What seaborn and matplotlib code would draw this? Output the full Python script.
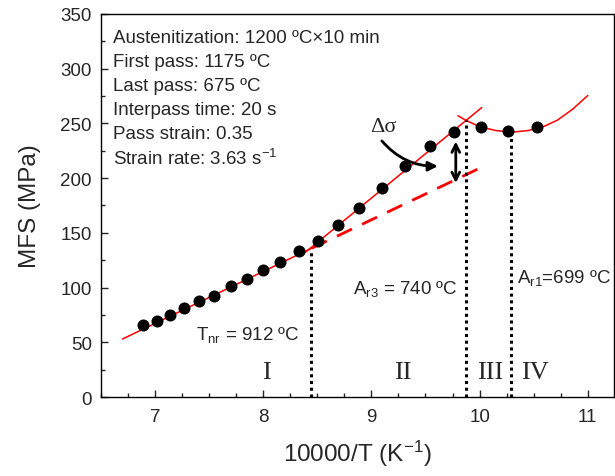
import numpy as np
import pandas as pd
import matplotlib
matplotlib.use("Agg")
import matplotlib.pyplot as plt
import seaborn as sns
from matplotlib.ticker import MultipleLocator

# --- data ---
inv_T = [6.89, 7.02, 7.14, 7.27, 7.41, 7.55, 7.70, 7.85, 8.00, 8.16, 8.33, 8.51,
         8.69, 8.89, 9.10, 9.31, 9.54, 9.76, 10.01, 10.26, 10.53]
mfs = [66.2, 69.9, 74.5, 81.3, 87.3, 91.9, 101.1, 108.1, 116.4, 123.7, 133.5, 142.9,
       157.6, 172.3, 191.2, 211.0, 229.3, 242.5, 247.1, 243.1, 247.1]

fit1_x = [6.70, 8.47]
fit1_y = [53.0, 137.0]
fit2_x = [8.35, 10.02]
fit2_y = [129.0, 264.5]
fit3_x = [9.80, 9.87, 10.00, 10.15, 10.30, 10.45, 10.60, 10.72, 10.86, 11.00]
fit3_y = [257.0, 253.0, 247.0, 243.5, 242.0, 243.5, 247.5, 253.0, 263.0, 275.5]
ext_x = [8.45, 10.02]
ext_y = [136.0, 210.0]

T_nr, A_r3, A_r1 = 912, 740, 699
vline_x = [10000 / (T_nr + 273), 10000 / (A_r3 + 273), 10000 / (A_r1 + 273)]
vline_top = [134.0, 253.0, 242.0]

regions = ["I", "II", "III", "IV"]
region_x = [8.03, 9.29, 10.10, 10.51]

conditions = ["Austenitization: 1200 ºC×10 min",
              "First pass: 1175 ºC",
              "Last pass: 675 ºC",
              "Interpass time: 20 s",
              "Pass strain: 0.35",
              r"Strain rate: 3.63 s$^{\mathregular{-1}}$"]

# --- plotting ---
sns.set_style("ticks")
plt.rcParams['font.family'] = ['Liberation Sans', 'DejaVu Sans']
plt.rcParams['mathtext.fontset'] = 'custom'
plt.rcParams['mathtext.rm'] = 'Liberation Sans'
plt.rcParams['mathtext.it'] = 'Liberation Sans:italic'

fig = plt.figure(figsize=(6.15, 4.77), dpi=100)
ax = fig.add_axes([0.164, 0.1656, 0.834, 0.803])

df = pd.DataFrame({"x": inv_T, "y": mfs})
sns.lineplot(x=fit1_x, y=fit1_y, ax=ax, color="red", lw=1.1, sort=False, estimator=None)
sns.lineplot(x=fit2_x, y=fit2_y, ax=ax, color="red", lw=1.1, sort=False, estimator=None)
sns.lineplot(x=fit3_x, y=fit3_y, ax=ax, color="red", lw=1.1, sort=False, estimator=None)
sns.lineplot(x=ext_x, y=ext_y, ax=ax, color="red", lw=2.0, sort=False, estimator=None,
             dashes=False, linestyle=(0, (6, 4)))
sns.scatterplot(data=df, x="x", y="y", ax=ax, color="black", s=75, edgecolor="black",
                linewidth=0, zorder=5)

for xv, top in zip(vline_x, vline_top):
    ax.plot([xv, xv], [0, top], color="black", lw=2.2, linestyle=(0, (1, 1.2)), zorder=3)

ax.set_xlim(6.5, 11.24)
ax.set_ylim(0, 350)
ax.xaxis.set_major_locator(MultipleLocator(1))
ax.xaxis.set_minor_locator(MultipleLocator(0.25))
ax.yaxis.set_major_locator(MultipleLocator(50))
ax.yaxis.set_minor_locator(MultipleLocator(25))
ax.tick_params(which="both", direction="in", top=False, right=False, labelsize=13.5)
ax.tick_params(axis="y", which="major", pad=6.5)
ax.tick_params(axis="x", which="major", pad=8)
ax.tick_params(which="major", length=5, width=1)
ax.tick_params(which="minor", length=3, width=1)
for sp in ax.spines.values():
    sp.set_visible(True)
    sp.set_linewidth(1.0)
    sp.set_color("black")

ax.set_xlabel(r"10000/T (K$^{\mathregular{-1}}$)", fontsize=17.5, labelpad=9)
ax.set_ylabel("MFS (MPa)", fontsize=17.5, labelpad=14)

# condition text (baselines in pixels from top of figure, converted to axes fraction)
baselines_px = [43, 67, 91, 115, 139, 165]
for line, bpx in zip(conditions, baselines_px):
    ax.text(0.0228, (398 - bpx) / 383, line, transform=ax.transAxes, fontsize=13.5,
            va="baseline", ha="left")

# temperature labels
ax.text(7.38, 58, r"T$_{\mathregular{nr}}$ = 912 ºC", fontsize=13.5, va="center")
ax.text(8.83, 100, r"A$_{\mathregular{r3}}$ = 740 ºC", fontsize=13.5, va="center")
ax.text(10.35, 110, r"A$_{\mathregular{r1}}$=699 ºC", fontsize=13.5, va="center")

for lab, xv in zip(regions, region_x):
    ax.text(xv, 23, lab, fontsize=19, family="Liberation Serif", ha="center", va="center")

# delta sigma
ax.text(9.11, 247, "Δσ", fontsize=16, family="Liberation Serif", ha="center", va="center")
ax.annotate("", xy=(9.64, 211), xytext=(9.08, 236),
            arrowprops=dict(arrowstyle="-|>", color="black", lw=2,
                            connectionstyle="arc3,rad=0.25", mutation_scale=14))
ax.annotate("", xy=(9.78, 236), xytext=(9.78, 193),
            arrowprops=dict(arrowstyle="<->", color="black", lw=2, mutation_scale=14))

fig.savefig("out.png", dpi=100)
